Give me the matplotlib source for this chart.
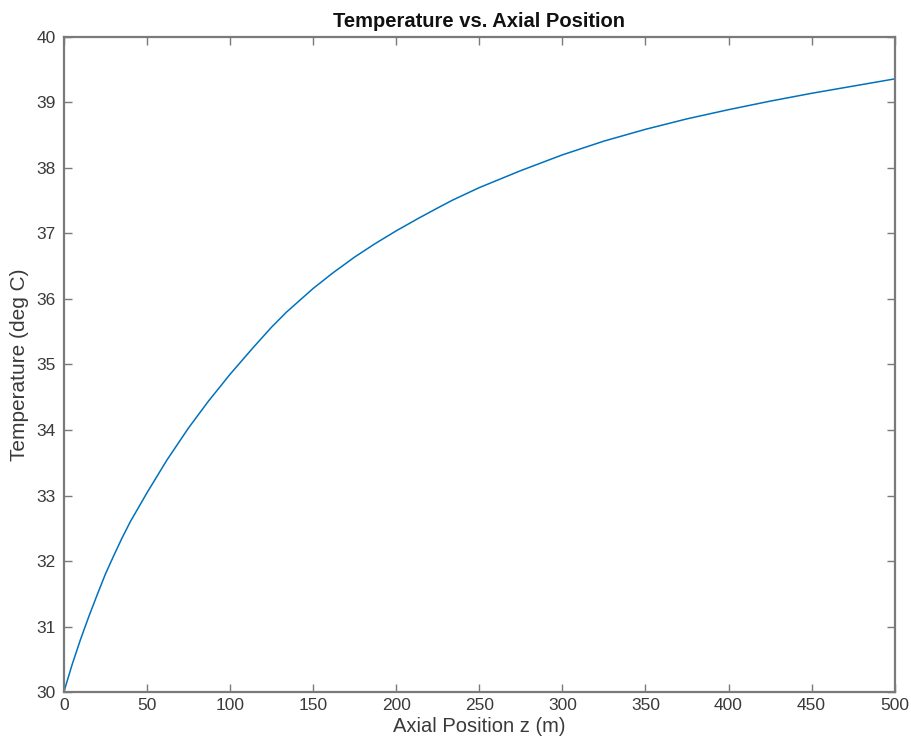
# Temperatur entlang der Achse (Nachbau einer MATLAB-Grafik)
import matplotlib
matplotlib.use("Agg")
import matplotlib.pyplot as plt

plt.rcParams["font.family"] = ["Liberation Sans", "DejaVu Sans"]

# Werte
position_z = [0, 5, 10, 15, 20, 25, 30, 35, 40, 50, 62, 75, 87, 94, 100,
              114, 125, 134, 150, 162, 175, 187, 200, 214, 225, 234, 250,
              275, 300, 325, 350, 375, 400, 425, 450, 475, 500]
temperatur = [30.0, 30.42, 30.8, 31.15, 31.48, 31.8, 32.08, 32.35, 32.6,
              33.04, 33.54, 34.03, 34.44, 34.66, 34.85, 35.26, 35.57, 35.8,
              36.16, 36.4, 36.64, 36.84, 37.04, 37.24, 37.39, 37.51, 37.70,
              37.96, 38.20, 38.41, 38.59, 38.75, 38.89, 39.02, 39.14, 39.25,
              39.36]

x_ticks = list(range(0, 501, 50))
y_ticks = list(range(30, 41))

achsen_grau = "#7a7a7a"
text_grau = "#3a3a3a"

fig = plt.figure(figsize=(9.12, 7.38), dpi=100)
ax = fig.add_axes([0.070, 0.0623, 0.911, 0.8876])

ax.plot(position_z, temperatur, color="#0072BD", linewidth=1.1)

ax.set_xlim(0, 500)
ax.set_ylim(30, 40)
ax.set_xticks(x_ticks)
ax.set_yticks(y_ticks)

for seite in ax.spines.values():
    seite.set_color(achsen_grau)
    seite.set_linewidth(1.6)

ax.tick_params(direction="in", length=6, width=1.0, color=achsen_grau,
               labelcolor=text_grau, labelsize=12.5, top=True, right=True)
ax.tick_params(axis="y", pad=6)
ax.tick_params(axis="x", pad=4)

ax.set_title("Temperature vs. Axial Position", fontsize=14.5,
             fontweight="bold", color="#111111", pad=7)
ax.set_xlabel("Axial Position z (m)", fontsize=14.5, color=text_grau)
ax.set_ylabel("Temperature (deg C)", fontsize=15, color=text_grau)
ax.xaxis.set_label_coords(0.5, -0.038)
ax.yaxis.set_label_coords(-0.042, 0.5)

fig.savefig("out.png", dpi=100)
